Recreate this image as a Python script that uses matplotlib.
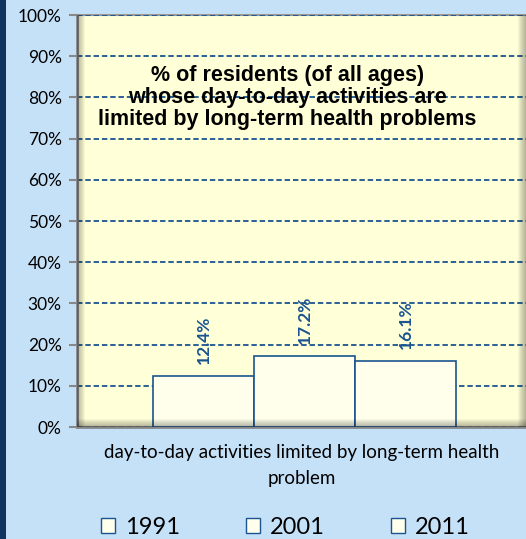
import matplotlib.pyplot as plt
from matplotlib.patches import Rectangle, Patch

years = ['1991', '2001', '2011']
values = [12.4, 17.2, 16.1]
value_labels = ['12.4%', '17.2%', '16.1%']
category = 'day-to-day activities limited by long-term health\nproblem'
title = '% of residents (of all ages)\nwhose day-to-day activities are\nlimited by long-term health problems'
yticks = list(range(0, 101, 10))

bg = '#C5E1F8'
plot_bg = '#FFFFD8'
bar_fill = '#FFFFEC'
navy = '#1A5490'

fig = plt.figure(figsize=(5.26, 5.39), dpi=100)
fig.patch.set_facecolor(bg)

# dark strip on the left edge
fig.patches.append(Rectangle((0, 0), 6 / 526, 1, transform=fig.transFigure,
                             facecolor='#103462', edgecolor='none', zorder=-1))

ax = fig.add_axes([77 / 526, 112 / 539, 449 / 526, 412 / 539])
ax.set_facecolor(plot_bg)

x = list(range(len(years)))
bars = ax.bar(x, values, width=1.0, color=bar_fill, edgecolor=navy, linewidth=1.2,
              zorder=3)

for xi, v, lab in zip(x, values, value_labels):
    ax.annotate(lab, (xi, v), xytext=(0, 8.5), textcoords='offset points',
                rotation=90, ha='center', va='bottom', fontsize=12.5,
                fontweight='bold', color=navy, family='Lato', zorder=4)

ax.set_ylim(0, 100)
ax.set_xlim(-1.252, 3.194)
ax.set_yticks(yticks)
ax.set_yticklabels([f'{t}%' for t in yticks], fontsize=12.5, family='Lato')
ax.set_xticks([])
ax.yaxis.grid(True, linestyle=(0, (3, 1.6)), color=navy, linewidth=1.3)
ax.set_axisbelow(True)
ax.tick_params(axis='y', length=6, width=1.5, color='#888888', pad=5)

ax.spines['right'].set_visible(False)
ax.spines['top'].set_color('#999999')
ax.spines['top'].set_linewidth(1.5)
ax.spines['top'].set_zorder(0.4)
for s in ['left', 'bottom']:
    ax.spines[s].set_color('#888888')
    ax.spines[s].set_linewidth(2)

# inner shadow along the left, bottom and right edges of the plot area
px_x, px_y = 1 / 449, 1 / 412
for i in range(8):
    w = 8 - i
    for rect in [(0, 0, w * px_x, 1), (0, 0, 1, w * px_y), (1 - w * px_x, 0, w * px_x, 1)]:
        ax.add_patch(Rectangle(rect[:2], rect[2], rect[3], transform=ax.transAxes,
                               facecolor='black', edgecolor='none', alpha=0.04,
                               zorder=3.5))

ax.text(0.468, 0.80, title, transform=ax.transAxes, ha='center', va='center',
        fontsize=15.5, fontweight='bold', family='Liberation Sans',
        linespacing=1.08, color='black', zorder=2)

ax.set_xlabel(category, fontsize=13.5, family='Lato', labelpad=12, linespacing=1.7)

handles = [Patch(facecolor=bar_fill, edgecolor=navy, linewidth=1.0) for _ in years]
fig.legend(handles, years, loc='center', bbox_to_anchor=(0.543, 0.022), ncol=3,
           frameon=False, prop={'family': 'Lato', 'size': 17},
           handlelength=0.6, handleheight=0.6, handletextpad=0.42,
           columnspacing=2.8)

fig.savefig('out.png', dpi=100, facecolor=bg)
